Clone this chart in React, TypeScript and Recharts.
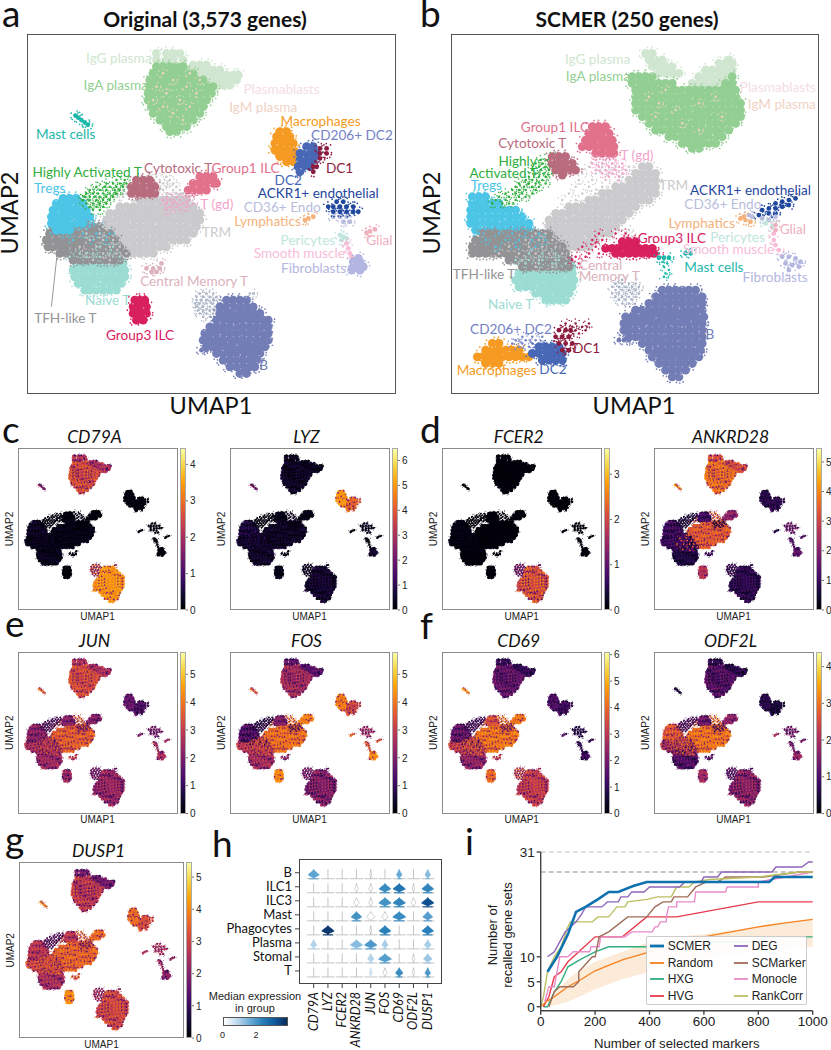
import React from "react";
import { ScatterChart, Scatter, XAxis, YAxis, ComposedChart, Line, Area, ReferenceLine } from "recharts";

type Rows = [number, number[]][];
const LATO = "Lato, Carlito, sans-serif";
const ARIAL = "'Liberation Sans', Arial, sans-serif";

// ---------- embedding of panel a (also used by c-g), UMAP units ----------
const aLobe: Rows = [[16,[47,50,52,54]],[18,[47,50,52,55]],[19.5,[55,58,60,62]],[21,[58,60,62,64,66]],[22.5,[60,62,64,66,68,70,71.5]],[24,[62,64,66,68,70,71]],[25.5,[61,64,67,69]]];
const aPlasma: Rows = [[20,[47,49,51,53,55]],[22,[46,48,50,52,54,56,58]],[24,[45,47,49,51,53,55,57,59,61]],[26,[45,46,48,50,52,54,56,58,60,62,64]],[28,[44.5,46,48,50,52,54,56,58,60,62,63.5]],[30,[44.5,46,48,50,52,54,56,58,60,62]],[32,[45.5,47,49,51,53,55,57,59,61]],[34,[46,48,50,52,54,56,58,60]],[36,[48,50,52,54,56,58]],[38,[50,52,54,56]],[39.5,[51,53]]];
const aIgm: Rows = [[22,[57,49]],[24,[60,52]],[26,[47,56]],[28,[50,59]],[30,[54,46]],[32,[49,57]],[34,[52]],[36,[55]]];
const aTrm: Rows = [[60,[42,44,46,48,50,52,54,56]],[62,[36,38,40,42,44,46,48,50,52,54,56,58]],[64,[33,35,37,39,41,43,45,47,49,51,53,55,57,59,60]],[66,[32,34,36,38,40,42,44,46,48,50,52,54,56,58,60]],[68,[32,34,36,38,40,42,44,46,48,50,52,54,56,58,59]],[70,[32,34,36,38,40,42,44,46,48,50,52,54,56,58]],[72,[34,36,38,40,42,44,46,48,50,52,54,56]],[74,[38,40,42,44,46,48,50]],[76,[40,42,44,46]]];
const aTrmFine: Rows = [[53,[44,47,50]],[54,[42,45,48,51]],[55,[40,43,46,49,52]],[56,[38,41,44,47,50,53]],[57,[37,40,43,46,49,52,54]],[58,[35,38,41,44,47,50,53,55]],[59,[34,37,40,43,46,49,52,55,57]]];
const aTfh: Rows = [[66,[18,20,22,24,26]],[68,[16,18,20,22,24,26,28,30]],[70,[15,17,19,21,23,25,27,29,31,33]],[72,[14,15,17,19,21,23,25,27,29,31,33,35]],[74,[14.5,16,18,20,22,24,26,28,30,32,34,36]],[76,[18,20,22,24,26,28,30,32,34,36,38]],[78,[22,24,26,28,30,32,34,36]]];
const aTregs: Rows = [[59.5,[19,21,23]],[61,[17,19,21,23,25]],[63,[16,18,20,22,24,26]],[65,[15.5,17,19,21,23,25,27]],[67,[15.5,17,19,21,23,25]],[69,[17,19,21]]];
const aNaive: Rows = [[79,[23,25,27,29,31,33,35,37]],[81,[22,24,26,28,30,32,34,36,37.5]],[83,[22.5,24,26,28,30,32,34,36,37.5]],[85,[23.5,25,27,29,31,33,35,36.5]],[87,[25.5,27,29,31,33,35]]];
const aTfhCyan: Rows = [[66,[20,24,28]],[68,[17,23,27,31]],[70,[19,25,29,33]],[72,[22,28,32]]];
const aTfhLight: Rows = [[68,[31,33]],[70,[26,30,35]],[72,[27,31,34,36]],[74,[24,29,33,36]],[76,[26,31,35,38]],[78,[28,33]]];
const aNaiveMix: Rows = [[74,[30,34]],[76,[24,28,33]],[77,[21,26,30,36]]];
const aAct: Rows = [[54,[35,37.5]],[55,[32,34,36,38]],[56,[29,31.5,33,35,37]],[57,[27,30,32,34.5,36]],[58,[26,28,29.5,31,33,35]],[59,[25.5,27,28.5,30,32,34]],[60,[25,27,29,31,33]],[61,[26,28,30,32]],[62,[27,29,31]],[63,[28,30]]];
const aCyto: Rows = [[54,[41,43,45]],[56,[39.5,41,43,45,46.5]],[58,[39.5,41,43,45,46.5]]];
const aIlc1: Rows = [[53,[60,62,64]],[55,[58,60,62,64,65]],[57,[56.5,58,60,62]]];
const aGd: Rows = [[59,[50,53,56]],[60,[49,51,54,57]],[61,[50,52,55,58]],[62,[51,53,56]],[63,[50,54]]];
const aCm: Rows = [[79,[48.5]],[80.5,[44,46,48]],[81.5,[45.5,47]]];
const aIlc3: Rows = [[90,[40.5,42,43.5]],[92,[40,41.5,43,44]],[94,[40,42,44]],[96,[41,43]]];
const aB: Rows = [[90,[68,70,72,74]],[92,[66,68,70,72,74,76]],[94,[66,68,70,72,74,76,78]],[96,[65,67,69,71,73,75,77,79,80.5]],[98,[63,65,67,69,71,73,75,77,79,80.5]],[100,[61.5,63,65,67,69,71,73,75,77,79,80.5]],[102,[61,63,65,67,69,71,73,75,77,79,80.5]],[104,[62,64,66,68,70,72,74,76,78,79.5]],[106,[65,67,69,71,73,75,77,78]],[108,[67,69,71,73,75,77]],[110,[69,71,73,75,76.5]],[112,[72,74]]];
const aBump: Rows = [[105,[60.5,62]]];
const aBmix: Rows = [[88,[60,62,64,75,76]],[89,[59,61,63,65]],[90,[59,60.5,62,64,66]],[91,[58.5,60,62,64,65.5]],[92,[59,61,63,65]],[93,[59.5,61,63,64.5]],[94,[60,62,64]],[95,[61,63]]];
const aMast: Rows = [[34.7,[22.8]],[35.3,[23.6]],[36,[24.5]],[36.7,[25.5]],[37.4,[26.4]]];
const aMac: Rows = [[39.5,[84,86]],[41,[83,85,87]],[43,[82.5,84,86,88]],[45,[82.5,84,86,88]],[47,[84,86,88]],[48.5,[86,88,90]]];
const aDc2: Rows = [[44,[92,94]],[46,[90,92,94,95]],[48,[90,92,94]],[50,[89.5,91,93]],[51.5,[90]]];
const aDc1: Rows = [[44.5,[96,98]],[46,[96,98]],[47.5,[96]],[50,[94,95]],[51.5,[94]]];
const aAckr: Rows = [[60.5,[101,103]],[62,[98.5,100,102,104,106]],[63.5,[100,102,104,106,107.5]]];
const aCd36: Rows = [[65,[100,102,104]],[66.5,[103,105]]];
const aLymph: Rows = [[65,[94]],[65.5,[92.5]],[66,[91.5]]];
const aPeri: Rows = [[70.5,[102]],[71,[103]],[71.5,[104]],[72,[102.5]]];
const aSmooth: Rows = [[73,[104]],[74.5,[104.5]],[76,[105]],[77,[105.5]]];
const aFib: Rows = [[77.5,[107.5]],[78.5,[106,108]],[80,[106,107.5,109]],[81,[105.5,108]]];
const aGlial: Rows = [[68.8,[112.5]],[69.3,[111]],[69.8,[110]]];

// ---------- embedding of panel b ----------
const bLobe: Rows = [[16,[69,71]],[18,[70,72,74,94]],[19,[91,93,95]],[20,[71,73,75,77]],[21,[87,89,91,93,95]],[22,[73,75,77,79]],[23,[85,87,89,91,93]],[25,[83,85,87,89,91]]];
const bPlasma: Rows = [[23,[65,67,69,71,95]],[25,[65,67,69,71,73,75,77,93,95]],[27,[66,68,70,72,74,76,78,80,82,84,86,88,90,92,94,96]],[29,[66,68,70,72,74,76,78,80,82,84,86,88,90,92,94,96]],[31,[66,68,70,72,74,76,78,80,82,84,86,88,90,92,94,96,97.5]],[33,[66,68,70,72,74,76,78,80,82,84,86,88,90,92,94,96,97.5]],[35,[68,70,72,74,76,78,80,82,84,86,88,90,92,94,96,97.5]],[37,[70,72,74,76,78,80,82,84,86,88,90,92,94,96]],[39,[72,74,76,78,80,82,84,86,88,90,92,94]],[41,[76,78,80,82,84,86,88,90,92]],[43,[80,82,84,86,88,90]],[44.5,[83,85]]];
const bIgm: Rows = [[27,[75]],[29,[70,90]],[31,[73,85]],[33,[78]],[35,[72,92]],[37,[80]],[39,[85]]];
const bTrm: Rows = [[50,[68,70]],[52,[66,68,70,72]],[54,[64,66,68,70,72]],[56,[60,62,64,66,68,70,72]],[58,[56,58,60,62,64,66,68,70,72]],[60,[52,54,56,58,60,62,64,66,68,70]],[62,[46,48,50,52,54,56,58,60,62,64,66]],[64,[42,44,46,48,50,52,54,56,58,60,62,64]],[66,[40,42,44,46,48,50,52,54,56,58,60,62]],[68,[40,42,44,46,48,50,52,54,56,58,60]],[70,[42,44,46,48,50,52,54,56,58]],[72,[44,46,48,50,52,54]],[74,[46,48,50,52]]];
const bTrmFine: Rows = [[50,[52,56,60,64]],[52,[50,54,58,62]],[54,[49,53,57,61]],[56,[48,52,56]],[58,[46,50,54]],[60,[44,48]],[69,[62,64]],[71,[63,65]]];
const bTregs: Rows = [[59,[17,19,21]],[61,[17,19,21,23,25]],[63,[16.5,18,20,22,24,26,28,30]],[65,[16.5,18,20,22,24,26,28,30,32]],[67,[16.5,18,20,22,24,26,28,30,32,34]],[69,[18,20,22,24,26,28,30,32,34]],[71,[22,24,26,28]]];
const bTfh: Rows = [[70,[20,22,24,26,28,30,32,34,36,38,40]],[72,[18,20,22,24,26,28,30,32,34,36,38,40,42]],[74,[17,19,21,23,25,27,29,31,33,35,37,39,41,43,44]],[76,[17,19,21,23,25,27,29,31,33,35,37,39,41,43,45]],[78,[28,30,32,34,36,38,40,42,44,46]],[80,[32,34,36,38,40,42,44,46]]];
const bNaive: Rows = [[80,[33,35,37,39,41,43,45,47]],[82,[31,33,35,37,39,41,43,45,47]],[84,[30,32,34,36,38,40,42,44,46,47.5]],[86,[31,33,35,37,39,41,43,45,47]],[88,[36,38,40,42,44,46]],[90,[39,41,43,45]]];
const bTfhCyan: Rows = [[68,[22,26,30,34]],[70,[19,25,29,33,37]],[72,[21,27,31,35,39]],[74,[24,30,36]]];
const bTfhLight: Rows = [[70,[36,39,42]],[72,[33,37,41,43]],[74,[28,34,38,42]],[76,[25,31,36,40,44]],[78,[32,37,42]],[80,[36,41]]];
const bNaiveMix: Rows = [[76,[34,38,42]],[78,[30,34,38,43]],[79,[33,37,41,45]]];
const bAct: Rows = [[47,[40,42]],[48,[37.5,39.5,41.5]],[49,[36,38,40]],[50,[37,39,41]],[51,[35,37.5,40]],[52,[36,38.5,41]],[53,[34,37,39]],[54,[33,35,38]],[55,[31,34,36,39]],[56,[30,32.5,35,37]],[57,[29,31,33,36]],[58,[27,30,32,35]],[59,[25,28,31,33]],[60,[24,27,30]],[61,[23,26,28]]];
const bCyto: Rows = [[47,[41,43,45]],[49,[41,43,45,47]],[51,[42,44,46,48]],[52.5,[44]]];
const bIlc1: Rows = [[38,[53,55,57]],[40,[52,54,56,58]],[42,[51,53,55,57,59]],[44,[50,52,54,56,58,59.5]],[46,[54,56,58,59.5]]];
const bGd: Rows = [[48,[54,57,60]],[49,[53,56,59,62]],[50,[55,58,61]],[51,[54,57,60,63]],[52,[56,59,62]],[53,[58,61]]];
const bIlc3: Rows = [[72.5,[62,64,66]],[74.5,[57,59,61,63,65,67,69,71]],[76,[60,62,64,66,68,70,71.5]]];
const bIlc3Fine: Rows = [[70,[55,60,63]],[72,[53,56]],[74,[50,54]],[76,[52,55,73]],[77,[48,51]],[78,[47]],[79,[49]]];
const bMast: Rows = [[76,[81,82.5]],[77.3,[73,74.5,76]]];
const bMastFine: Rows = [[79,[75.5]],[80,[74.5]],[81,[76]],[82,[75]],[83,[74.5]]];
const bB: Rows = [[87,[74,76,78,80,82,84]],[89,[72,74,76,78,80,82,84,86]],[91,[70,72,74,76,78,80,82,84,86]],[93,[66,68,70,72,74,76,78,80,82,84,86]],[95,[63,65,67,69,71,73,75,77,79,81,83,85,86.5]],[97,[62.5,64,66,68,70,72,74,76,78,80,82,84,86]],[99,[62.5,64,66,68,70,72,74,76,78,80,82,84,86]],[101,[64,66,68,70,72,74,76,78,80,82,84,86]],[103,[68,70,72,74,76,78,80,82,84,86]],[105,[70,72,74,76,78,80,82,84,85.5]],[107,[71,73,75,77,79,81,83,85]],[109,[73,75,77,79,81,83]],[111,[75,77,79,81]],[113,[77,79]]];
const bBump: Rows = [[102,[61,62.5,64]]];
const bBmix: Rows = [[84,[62]],[85,[60,62,64,66]],[86,[59,61,63,65,67]],[87,[60,62,64,66]],[88,[59,61,63,65,67]],[89,[60,62,64,66]],[90,[61,63,65]],[91,[62,64]]];
const bMac: Rows = [[103,[23,25]],[105,[21,23,25,27,29,31]],[107,[18.5,20,22,24,26,28,30,32,34]],[109,[21,23,25]]];
const bCd206: Rows = [[101,[32,35,38]],[102,[30,33,36]],[103,[29,32,35,38]],[104,[31,34,37]]];
const bDc2: Rows = [[104,[37,39,41,43]],[106,[35,37,39,41,43,44]],[108,[38,40,42,44]]];
const bDc1: Rows = [[99,[43,45,46.5]],[101,[42,44,46]],[103,[43,45,47]],[105,[44,46]]];
const bDc1Fine: Rows = [[97,[45,48,52]],[98,[47,50]],[99,[48,51]],[100,[49]]];
const bAckr: Rows = [[59.5,[114]],[60,[112]],[60.5,[110]],[61,[108]],[61.5,[112]],[62,[110]],[62.5,[106,108]],[63,[104]],[64,[106,108]],[64.5,[103]]];
const bCd36: Rows = [[64.5,[100]],[65,[101,108]],[65.5,[104]],[66,[106]]];
const bLymph: Rows = [[65,[98.5]],[65.5,[97.5]],[66,[99]],[66.5,[100.5]]];
const bPeri: Rows = [[67,[105]],[68,[107]]];
const bGlial: Rows = [[67.5,[108]],[69,[108]]];
const bSmooth: Rows = [[70,[107.5]],[72,[107.5]],[73.5,[108]],[75,[109]]];
const bFib: Rows = [[77,[110,112]],[77.5,[114]],[78.5,[115.5]],[79,[111]],[79.5,[113]],[80,[115]],[81,[112]]];

// ---------- cluster colours ----------
const COL: Record<string,string> = {
  lobe:"#d0e6d0", plasma:"#93cf93", igm:"#efd3c6", trm:"#cbcbcd", tfh:"#939395", tregs:"#4dc5e6", naive:"#9bdcd3",
  act:"#2eae3c", cyto:"#b86c7e", ilc1:"#e2718c", gd:"#f2a3cb", cm:"#dcb2bc", ilc3:"#d8205f", b:"#737db6", bmix:"#aab4c6",
  mast:"#1eb7ab", mac:"#f59a22", dc2:"#4868b6", cd206:"#7482c8", dc1:"#8c1b3d", ackr:"#1f479e", cd36:"#b9bddd",
  lymph:"#f5b27c", peri:"#bfe5dc", smooth:"#f7bcd8", fib:"#b3b6e0", glial:"#eeb0bc", leader:"#999999",
};
type Cl = { key: string; region: number; size: 0|1|2; rows: Rows };
const aClusters: Cl[] = [
  {key:"lobe",region:1,size:0,rows:aLobe},{key:"plasma",region:0,size:0,rows:aPlasma},{key:"igm",region:0,size:2,rows:aIgm},
  {key:"trm",region:2,size:2,rows:aTrmFine},{key:"trm",region:2,size:0,rows:aTrm},{key:"naive",region:5,size:0,rows:aNaive},
  {key:"tfh",region:3,size:0,rows:aTfh},{key:"tregs",region:4,size:0,rows:aTregs},
  {key:"tregs",region:4,size:2,rows:aTfhCyan},{key:"trm",region:2,size:2,rows:aTfhLight},{key:"naive",region:5,size:2,rows:aNaiveMix},
  {key:"act",region:6,size:2,rows:aAct},
  {key:"cyto",region:7,size:0,rows:aCyto},{key:"ilc1",region:8,size:0,rows:aIlc1},{key:"gd",region:9,size:2,rows:aGd},
  {key:"cm",region:10,size:1,rows:aCm},{key:"ilc3",region:11,size:0,rows:aIlc3},{key:"bmix",region:13,size:2,rows:aBmix},
  {key:"b",region:12,size:0,rows:aB},{key:"b",region:12,size:1,rows:aBump},{key:"mast",region:14,size:1,rows:aMast},
  {key:"mac",region:15,size:0,rows:aMac},{key:"dc2",region:16,size:0,rows:aDc2},{key:"dc1",region:16,size:1,rows:aDc1},
  {key:"cd36",region:17,size:1,rows:aCd36},{key:"ackr",region:17,size:1,rows:aAckr},{key:"lymph",region:18,size:1,rows:aLymph},
  {key:"peri",region:19,size:1,rows:aPeri},{key:"smooth",region:19,size:1,rows:aSmooth},{key:"fib",region:20,size:0,rows:aFib},
  {key:"glial",region:19,size:1,rows:aGlial},
];
const bClusters: Cl[] = [
  {key:"lobe",region:1,size:0,rows:bLobe},{key:"plasma",region:0,size:0,rows:bPlasma},{key:"igm",region:0,size:2,rows:bIgm},
  {key:"trm",region:2,size:2,rows:bTrmFine},{key:"trm",region:2,size:0,rows:bTrm},{key:"naive",region:5,size:0,rows:bNaive},
  {key:"tregs",region:4,size:0,rows:bTregs},{key:"tfh",region:3,size:0,rows:bTfh},
  {key:"tregs",region:4,size:2,rows:bTfhCyan},{key:"trm",region:2,size:2,rows:bTfhLight},{key:"naive",region:5,size:2,rows:bNaiveMix},
  {key:"act",region:6,size:2,rows:bAct},
  {key:"ilc1",region:8,size:0,rows:bIlc1},{key:"cyto",region:7,size:0,rows:bCyto},{key:"gd",region:9,size:2,rows:bGd},
  {key:"ilc3",region:11,size:0,rows:bIlc3},{key:"ilc3",region:11,size:2,rows:bIlc3Fine},{key:"mast",region:14,size:1,rows:bMast},
  {key:"mast",region:14,size:2,rows:bMastFine},{key:"bmix",region:13,size:2,rows:bBmix},{key:"b",region:12,size:0,rows:bB},
  {key:"b",region:12,size:1,rows:bBump},{key:"mac",region:15,size:0,rows:bMac},{key:"cd206",region:16,size:2,rows:bCd206},
  {key:"dc2",region:16,size:0,rows:bDc2},{key:"dc1",region:16,size:1,rows:bDc1},{key:"dc1",region:16,size:2,rows:bDc1Fine},
  {key:"ackr",region:17,size:1,rows:bAckr},{key:"cd36",region:17,size:1,rows:bCd36},{key:"lymph",region:18,size:1,rows:bLymph},
  {key:"peri",region:19,size:1,rows:bPeri},{key:"glial",region:19,size:1,rows:bGlial},{key:"smooth",region:19,size:1,rows:bSmooth},
  {key:"fib",region:20,size:1,rows:bFib},
];

// ---------- cluster labels ----------
type Lab = [string,string,number,number];
const aLabels: Lab[] = [["IgG plasma","lobe",35.7,17.5],["IgA plasma","plasma",34.8,25.6],["Plasmablasts","igmPale",84.5,26.7],["IgM plasma","igm",79,32],["Macrophages","mac",96.2,36.2],["Mast cells","mast",19.8,40.3],["CD206+ DC2","cd206",105.6,40.5],["DC1","dc1",101.9,50.5],["Highly Activated T","act",26.2,51.6],["Cytotoxic T","cyto",53.5,50.3],["Group1 ILC","ilc1",73.7,50.3],["DC2","dc2",86.5,54],["Tregs","tregs",15,56.5],["ACKR1+ endothelial","ackr",95.5,57.8],["T (gd)","gd",65.1,61.3],["CD36+ Endo","cd36",84.7,62.1],["Lymphatics","lymph",80.3,66.4],["TRM","trm",65,69.7],["Pericytes","peri",92.4,72],["Glial","glial",113.8,72],["Smooth muscle","smooth",89.8,76],["Fibroblasts","fib",94.1,80.4],["Central Memory T","cm",58.3,84.2],["Naive T","naive",32.4,90],["TFH-like T","tfh",19.7,95.4],["Group3 ILC","ilc3",42.1,100.6],["B","b",79.1,109.4]];
const bLabels: Lab[] = [["IgG plasma","lobe",54.6,17.6],["IgA plasma","plasma",54.7,22.7],["Plasmablasts","igmPale",108.7,26.2],["IgM plasma","igm",109.9,31.2],["Group1 ILC","ilc1",41.8,38],["Cytotoxic T","cyto",35,43],["T (gd)","gd",66.4,46.4],["Highly","act",30.6,48.4],["Activated T","act",26.4,51.8],["Tregs","tregs",21.2,55.4],["TRM","trm",77.4,55.4],["ACKR1+ endothelial","ackr",100.5,56.9],["CD36+ Endo","cd36",92.2,61.3],["Lymphatics","lymph",85.9,67],["Glial","glial",113.2,68.8],["Pericytes","peri",96.6,71],["Group3 ILC","ilc3",76.9,71.3],["Smooth muscle","smooth",93.9,74.6],["Central","cm",55.5,79.6],["Memory T","cm",58.1,82.7],["Mast cells","mast",89.5,80],["TFH-like T","tfh",20.5,82.3],["Fibroblasts","fib",107.9,83],["Naive T","naive",28.5,91.1],["CD206+ DC2","cd206",28.6,98.8],["B","b",88.3,100.3],["DC1","dc1",51.3,104.3],["Macrophages","mac",24.3,111],["DC2","dc2",41.2,110.8]];
const leaderA = [{x:17.2,y:76.5},{x:15.5,y:92}];

// ---------- gene expression per region, [low, high] ----------
// plasma,lobe,trm,tfh,tregs,naive,act,cyto,ilc1,gd,cm,ilc3,b,bmix,mast,myeloid,dc,endo,lymph,stroma,fib
const CD79A = [[2,3],[1.5,2.5],[0,.3],[0,.4],[0,.5],[0,.4],[0,.2],[0,.2],[0,.1],[0,.1],[0,.2],[0,.1],[3,3.7],[1.5,3],[1,2],[0,.2],[0,.2],[0,.2],[0,.1],[0,.1],[0,.1]];
const LYZ = [[0,.8],[0,.6],[0,.8],[.1,1],[.1,1.2],[0,.9],[0,.3],[0,.5],[0,.4],[0,.3],[0,.4],[0,.5],[0,1],[0,.8],[1,3],[4.6,5.3],[3.5,4.8],[0,.6],[0,.3],[0,.3],[.2,.8]];
const FCER2 = [[0,.1],[0,.1],[0,.1],[0,.2],[0,.2],[0,.1],[0,.1],[0,.1],[0,.1],[0,.1],[0,.1],[0,.1],[1.5,2.6],[.8,1.6],[0,.1],[0,.1],[0,.1],[0,.1],[0,.1],[0,.1],[0,.1]];
const ANKRD28 = [[3,4.2],[2.5,3.6],[2.8,3.9],[.5,1.6],[.4,1.6],[.2,1],[.2,1],[.6,1.5],[1.8,2.5],[.3,1.5],[.5,1.5],[2.3,3],[.3,1.3],[.5,1.5],[3,4.5],[.3,1.2],[.4,1.3],[1,2.2],[.3,1],[.8,1.8],[1,1.8]];
const JUN = [[2.7,3.9],[2,3.2],[3,4.2],[2,3.4],[1.5,2.8],[1.8,3],[.8,2.2],[1.5,2.6],[1.5,2.6],[1.5,2.5],[2.5,3.5],[1.5,3],[1.6,3],[1.5,2.5],[3,4.2],[1.2,2.2],[.6,2],[1.2,2.5],[1.5,2.5],[2,3.2],[2.2,3]];
const FOS = [[1.8,3.2],[1,2],[3.4,4.4],[2.4,3.6],[.6,2],[1.8,3.2],[.3,1.5],[1.5,2.5],[3.8,4.5],[1,2.5],[1.5,2.8],[3.8,4.6],[1.2,2.8],[1.5,2.5],[3,4],[3.6,4.5],[2.6,3.8],[1.8,3],[3.5,4.2],[3,4],[3.8,4.6]];
const CD69 = [[1,2.4],[.5,1.5],[3.5,4.8],[2.6,4],[1,2.4],[1.6,3],[.8,2],[3,4],[3.8,4.6],[1.5,3],[2.5,3.8],[3.6,4.4],[2.4,3.8],[2.5,4],[4,5],[.8,2],[.5,1.8],[.3,1.2],[1,2],[.5,1.5],[.6,1.6]];
const ODF2L = [[.5,1.6],[.2,1],[2.6,3.4],[1.2,2.8],[2.2,3.1],[.5,1.5],[.6,1.6],[.8,1.8],[1.4,2],[.8,1.6],[.7,1.5],[1.6,2.2],[1,2.2],[.8,1.6],[.2,.8],[.2,1],[.1,.8],[1,1.8],[1.8,2.4],[1,1.8],[1.4,2.1]];
const DUSP1 = [[2,3.4],[1.2,2.2],[3,4],[2.6,3.7],[2.2,3.2],[1.8,3],[.8,2.2],[2.2,3.2],[3.2,4],[1.5,3],[3,3.8],[3.6,4.4],[2.4,3.6],[2,3],[3.4,4.3],[3.2,4],[2.8,3.6],[2,3],[2.4,3.1],[1.8,2.8],[1.6,2.4]];

// ---------- panel h ----------
const hGenes = ["CD79A","LYZ","FCER2","ANKRD28","JUN","FOS","CD69","ODF2L","DUSP1"];
const hGroups = ["B","ILC1","ILC3","Mast","Phagocytes","Plasma","Stomal","T"];
const hWidth = [
  [.9,0,0,0,.15,.1,.45,.05,.45],
  [0,0,0,.3,.3,.95,1,.2,.95],
  [0,0,0,.45,.3,1,1,.4,1],
  [0,0,0,.85,.7,.5,1.05,0,.8],
  [0,1,0,.05,.15,.95,0,0,.95],
  [.5,.03,0,1,1,.5,.03,.03,.55],
  [0,0,0,.03,.5,1.05,0,.2,.7],
  [0,0,0,.05,.25,.35,.6,.2,.45],
];
const hMedian = [
  [1.7,0,0,0,0,0,1.6,0,1.3],
  [0,0,0,0,0,2.1,2.5,0,2.2],
  [0,0,0,0,0,2,2.2,0,3.2],
  [0,0,0,2,0,0,2.1,0,1.8],
  [0,3.6,0,0,0,2.3,0,0,2.3],
  [.9,0,0,1.3,1.9,1,0,0,1],
  [0,0,0,0,.9,1.8,0,0,1.1],
  [0,0,0,0,.6,0,2.1,0,1.9],
];

// ---------- panel i ----------
type P = [number,number];
const SCMER: P[] = [[25,7],[60,10],[100,14.5],[130,19],[165,20],[210,21.5],[250,23],[285,23],[340,24.2],[390,25],[840,25],[860,26],[1000,26]];
const DEG: P[] = [[25,10],[50,11],[70,13],[90,15],[130,17],[150,18.5],[165,20],[225,20],[245,21],[285,21],[295,22],[320,22],[335,23],[380,23],[400,24],[510,24],[530,25],[590,25],[600,26],[650,26],[665,27],[850,27],[865,28],[960,28],[985,29],[1000,29]];
const HVG: P[] = [[10,0],[20,1],[30,2],[50,6],[75,7],[100,9],[150,11.5],[200,14],[300,14],[390,18],[500,18],[800,21],[1000,21]];
const Random: P[] = [[0,0],[20,1],[50,2],[100,4],[150,5.5],[200,7.2],[250,8.3],[300,9.4],[400,11],[500,12.6],[600,14],[700,15],[800,16],[900,16.8],[1000,17.5]];
const HXG: P[] = [[10,0],[25,0],[50,3],[75,5],[100,8],[150,9.6],[200,11],[250,12],[500,12],[520,13],[800,13],[830,14],[1000,14]];
const SCMarker: P[] = [[30,0],[50,3],[70,4],[120,4],[140,5],[140,7],[165,8.5],[190,10],[200,10],[215,14],[250,15],[320,18],[390,18],[420,20],[450,21],[480,21],[490,22],[540,22],[570,24],[610,25],[650,25],[680,26],[780,26],[820,26],[950,27],[1000,27]];
const Monocle: P[] = [[15,1],[30,4],[50,4],[70,10],[100,10],[120,11],[180,11],[185,12],[215,12],[220,14],[310,14],[335,15],[410,15],[420,16],[430,16],[440,17],[462,17],[462,18],[470,20],[500,20],[500,21],[565,21],[570,23],[680,23],[685,24],[800,24],[800,25],[1000,27]];
const RankCorr: P[] = [[0,0],[10,2],[25,7],[50,10],[75,12],[100,16],[110,17],[190,17],[210,18],[250,18],[280,20],[310,20],[320,21],[390,21.5],[430,22],[480,22],[490,23],[500,24],[545,24],[565,25],[620,25.5],[800,26],[950,27],[1000,27]];
const bandX = [30,100,150,200,300,400,500,600,800,1000];
const bandLo = [0,1,2.2,3.5,5.5,7,8.5,9.5,11,12];
const bandHi = [1.4,5.5,7.5,9,11,13,14,14.5,16,17.5];
const iSeries: [string,P[],string,number][] = [["HXG",HXG,"#2fae7e",1.4],["HVG",HVG,"#e63a4b",1.4],["Random",Random,"#f5811f",1.4],["Monocle",Monocle,"#e88ccb",1.4],["SCMarker",SCMarker,"#a06c5a",1.4],["RankCorr",RankCorr,"#bcc062",1.4],["DEG",DEG,"#8d66ba",1.4],["SCMER",SCMER,"#0f72b0",2.6]];
const legendOrder: string[][] = [["SCMER","DEG"],["Random","SCMarker"],["HXG","Monocle"],["HVG","RankCorr"]];

// ---------- helpers ----------
const INFERNO = ["#000004","#160b39","#420a68","#6a176e","#932667","#bc3754","#dd513a","#f37819","#fca50a","#f6d746","#fcffa4"];
const hex = (h:string)=>[1,3,5].map(i=>parseInt(h.slice(i,i+2),16));
const ramp = (stops:string[],t:number)=>{
  const s=Math.max(0,Math.min(.9999,t))*(stops.length-1), i=Math.floor(s), f=s-i;
  const a=hex(stops[i]),b=hex(stops[i+1]);
  return `rgb(${a.map((v,k)=>Math.round(v+(b[k]-v)*f)).join(",")})`;
};
const BLUES = ["#ffffff","#c2dbee","#6fb0d8","#2a80b9","#0f5a9c","#0a2a5e"];
const pts = (rows:Rows)=>rows.flatMap(([y,xs])=>xs.map(x=>({x,y})));
// dot texture: fixed offsets (in dot radii) of the tiny grains around a point
const SPECK = [[-1.25,-.7],[.4,-1.3],[1.3,.35],[-.5,1.2],[1.1,-.95],[-1.3,.6],[.9,1.1],[-.1,-1.35],[-1,1],[1.35,-.2],[.2,1.35]];
const yDomain:[number,number] = [10.2,118];

function Umap({left,top,w,h,clusters,xDomain,radii,gene,max,labels,leader}:{left:number;top:number;w:number;h:number;clusters:Cl[];xDomain:[number,number];radii:number[];gene?:number[][];max?:number;labels?:Lab[];leader?:{x:number;y:number}[]}){
  return <div style={{position:"absolute",left,top,width:w,height:h}}>
    <ScatterChart width={w} height={h} margin={{top:0,right:0,bottom:0,left:0}}>
      <XAxis type="number" dataKey="x" domain={xDomain} hide allowDataOverflow/>
      <YAxis type="number" dataKey="y" domain={yDomain} reversed hide allowDataOverflow/>
      {clusters.map((c,ci)=>{
        const r=radii[c.size]; const spread=c.size===2?2.6:c.size===1?1.5:1.06;
        return <Scatter key={ci} name={c.key} data={pts(c.rows)} isAnimationActive={false} fill={COL[c.key]}
          shape={(p:any)=>{
            const n=p.index??0; const sp=(k:number)=>SPECK[(n*3+k*4)%SPECK.length];
            if(gene){
              const [lo,hi]=gene[c.region]; const m=max as number;
              const cl=ramp(INFERNO,lo/m),ch=ramp(INFERNO,hi/m),cm=ramp(INFERNO,(lo+hi)/2/m),cd=ramp(INFERNO,lo*.55/m);
              return <g>
                <circle cx={p.cx} cy={p.cy} r={r} fill={cm}/>
                {[0,1,2,3].map(k=>{const o=sp(k);return <circle key={k} cx={p.cx+o[0]*r*.55} cy={p.cy+o[1]*r*.55} r={.42*Math.max(r,1.4)} fill={k===3?cd:k%2?cl:ch}/>;})}
                {[4,5].map(k=>{const o=sp(k);return <circle key={k} cx={p.cx+o[0]*r*spread} cy={p.cy+o[1]*r*spread} r={.45} fill={k%2?cl:cm}/>;})}
              </g>;
            }
            const f=COL[c.key];
            return <g>
              <circle cx={p.cx} cy={p.cy} r={r} fill={f}/>
              {[0,1,2,3,4].map(k=>{const o=sp(k);return <circle key={k} cx={p.cx+o[0]*r*spread} cy={p.cy+o[1]*r*spread} r={c.size===2?.75:.85} fill={f}/>;})}
              {c.size===0&&n%3===0&&<circle cx={p.cx+sp(5)[0]*r*.5} cy={p.cy+sp(5)[1]*r*.5} r={.8} fill="#fff" fillOpacity={.5}/>}
            </g>;
          }}/>;
      })}
      {leader&&<ReferenceLine segment={leader} stroke={COL.leader} strokeWidth={1}/>}
      {labels&&<Scatter name="labels" data={labels.map(l=>({x:l[2],y:l[3],t:l[0],k:l[1]}))} isAnimationActive={false}
        shape={(p:any)=><text x={p.cx} y={p.cy} textAnchor="middle" dominantBaseline="central" fontFamily={LATO} fontSize={13.6} fill={p.payload.k==="igmPale"?"#f5dde6":COL[p.payload.k]}>{p.payload.t}</text>}/>}
    </ScatterChart>
  </div>;
}

function Colorbar({x,top,bottom,w,max,step}:{x:number;top:number;bottom:number;w:number;max:number;step:number}){
  const ticks:number[]=[];for(let v=0;v<=max;v+=step)ticks.push(v);
  const H=bottom-top;
  return <>
    <div style={{position:"absolute",left:x,top,width:w,height:H,background:`linear-gradient(to top,${INFERNO.join(",")})`,border:"0.5px solid #aaa",boxSizing:"border-box"}}/>
    <svg style={{position:"absolute",left:x+w,top:top-8,overflow:"visible"}} width={22} height={H+16}>
      {ticks.map(v=>{const y=8+H-(v/max)*H;return <g key={v}><line x1={0} x2={2} y1={y} y2={y} stroke="#333" strokeWidth={.7}/><text x={4} y={y+3.7} fontFamily={ARIAL} fontSize={10} fill="#222">{v}</text></g>;})}
    </svg>
  </>;
}

function Mini({left,top,w,h,gene,max,title}:{left:number;top:number;w:number;h:number;gene:number[][];max:number;title:string}){
  const k=w/160;
  return <>
    <Umap left={left} top={top} w={w} h={h} clusters={aClusters} xDomain={[8.2,118.8]} radii={[2.1*k,1.1*k,.75*k]} gene={gene} max={max}/>
    <div style={{position:"absolute",left,top,width:w,height:h,border:"1.2px solid #8a8a8a",boxSizing:"border-box"}}/>
    <Colorbar x={left+w+2} top={top} bottom={top+h} w={6} max={max} step={1}/>
    <svg style={{position:"absolute",left:0,top:0,overflow:"visible"}} width={1} height={1}>
      <text x={left+w/2-3} y={top-5.5} textAnchor="middle" fontFamily={LATO} fontStyle="italic" fontSize={17.5} fill="#111">{title}</text>
      <text x={left+w/2} y={top+h+9.5} textAnchor="middle" fontFamily={ARIAL} fontSize={10} fill="#222">UMAP1</text>
      <text transform={`translate(${left-5},${top+h/2}) rotate(-90)`} textAnchor="middle" fontFamily={ARIAL} fontSize={10} fill="#222">UMAP2</text>
    </svg>
  </>;
}

function Violin(p:any){
  const {cx,cy,payload}=p; const w=payload.w*6.2, c=payload.m>0?ramp(BLUES,payload.m/3.8):"#ffffff";
  const gray="#b5b5b5";
  const body=`M${cx},${cy-3} C${cx+w*.25},${cy-1} ${cx+w*.7},${cy} ${cx+w},${cy+2.2} C${cx+w*.6},${cy+3.6} ${cx+w*.2},${cy+4.2} ${cx},${cy+5.4} C${cx-w*.2},${cy+4.2} ${cx-w*.6},${cy+3.6} ${cx-w},${cy+2.2} C${cx-w*.7},${cy} ${cx-w*.25},${cy-1} ${cx},${cy-3}Z`;
  return <g>
    <line x1={cx-6.5} x2={cx+6.5} y1={cy+6} y2={cy+6} stroke={gray} strokeWidth={.8}/>
    <line x1={cx} x2={cx} y1={cy-3.5} y2={cy+6} stroke={payload.m>0?c:gray} strokeWidth={.8}/>
    {payload.w>.1&&<path d={body} fill={c} stroke={payload.m>0?c:"#bdbdbd"} strokeWidth={.7}/>}
    {payload.w>.4&&payload.m>0&&<line x1={cx-w*.8} x2={cx+w*.8} y1={cy+6} y2={cy+6} stroke={c} strokeWidth={1.1}/>}
  </g>;
}

const hData = hGroups.flatMap((g,r)=>hGenes.map((n,c)=>({x:c,y:r,w:hWidth[r][c],m:hMedian[r][c]})));

function PanelH(){
  return <div style={{position:"absolute",left:210,top:850,width:240,height:200}}>
    <ScatterChart width={240} height={200} margin={{top:9,right:8,bottom:0,left:0}}>
      <XAxis type="number" dataKey="x" domain={[-1.03,9]} ticks={[0,1,2,3,4,5,6,7,8]} height={66} axisLine={false} tickLine={{stroke:"#444"}} tickSize={4} interval={0}
        tick={(p:any)=><text transform={`translate(${p.x+4},${p.y+2}) rotate(-90)`} textAnchor="end" fontFamily={LATO} fontStyle="italic" fontSize={12.5} fill="#111">{hGenes[p.payload.value]}</text>}/>
      <YAxis type="number" dataKey="y" domain={[-.98,7.93]} reversed ticks={[0,1,2,3,4,5,6,7]} width={89} axisLine={false} tickLine={{stroke:"#444"}} tickSize={4} interval={0}
        tick={(p:any)=><text x={p.x-1} y={p.y+4.5} textAnchor="end" fontFamily={LATO} fontSize={13} fill="#111">{hGroups[p.payload.value]}</text>}/>
      <Scatter data={hData} isAnimationActive={false} shape={Violin}/>
    </ScatterChart>
    <div style={{position:"absolute",left:89,top:9,width:143,height:125,border:"1.6px solid #444",boxSizing:"border-box"}}/>
    <div style={{position:"absolute",left:12.5,top:167,width:65,height:8.5,background:`linear-gradient(to right,${BLUES.join(",")})`,border:"1px solid #555",boxSizing:"border-box"}}/>
    <svg style={{position:"absolute",left:0,top:0,overflow:"visible"}} width={1} height={1}>
      <text x={45} y={150} textAnchor="middle" fontFamily={ARIAL} fontSize={11} fill="#222">Median expression</text>
      <text x={45} y={162} textAnchor="middle" fontFamily={ARIAL} fontSize={11} fill="#222">in group</text>
      <text x={12.5} y={188} textAnchor="middle" fontFamily={ARIAL} fontSize={9} fill="#222">0</text>
      <text x={46} y={188} textAnchor="middle" fontFamily={ARIAL} fontSize={9} fill="#222">2</text>
    </svg>
  </div>;
}

function PanelI(){
  const tk={fontFamily:ARIAL,fontSize:13.5,fill:"#222"};
  const band=bandX.map((x,i)=>({x,r:[bandLo[i],bandHi[i]]}));
  return <div style={{position:"absolute",left:500,top:840,width:331,height:210}}>
    <ComposedChart width={331} height={210} margin={{top:12,right:18.3,bottom:0,left:0}} data={band}>
      <XAxis type="number" dataKey="x" domain={[0,1000]} ticks={[0,200,400,600,800,1000]} height={39.3} tick={tk} stroke="#444" strokeWidth={1.4} tickSize={4} tickMargin={2} allowDuplicatedCategory={false}
        label={{value:"Number of selected markers",position:"insideBottom",offset:2,style:{fontFamily:ARIAL,fontSize:13.2,fill:"#222"}}}/>
      <YAxis type="number" domain={[-.8,31]} ticks={[0,5,10,31]} width={40.7} tick={tk} stroke="#444" strokeWidth={1.4} tickSize={4} tickMargin={2} interval={0}/>
      <ReferenceLine y={31} stroke="#b5b5b5" strokeDasharray="5 3" strokeWidth={.9}/>
      <ReferenceLine y={27} stroke="#8c8c8c" strokeDasharray="5 3" strokeWidth={1.1}/>
      <Area dataKey="r" type="linear" data={band} stroke="none" fill="#fde6d0" fillOpacity={.8} isAnimationActive={false} dot={false} activeDot={false}/>
      {iSeries.map(([n,d,c,w])=><Line key={n} name={n} type="linear" data={d.map(([x,y])=>({x,y}))} dataKey="y" stroke={c} strokeWidth={w} dot={false} activeDot={false} isAnimationActive={false}/>)}
    </ComposedChart>
    <svg style={{position:"absolute",left:0,top:0,overflow:"visible"}} width={1} height={1}>
      <text transform="translate(-3,95) rotate(-90)" textAnchor="middle" fontFamily={ARIAL} fontSize={13} fill="#222">Number of</text>
      <text transform="translate(12,95) rotate(-90)" textAnchor="middle" fontFamily={ARIAL} fontSize={13} fill="#222">recalled gene sets</text>
    </svg>
    <div style={{position:"absolute",left:145.7,top:96,width:161.6,height:69,background:"rgba(255,255,255,.9)",border:"1px solid #ccc",borderRadius:2,boxSizing:"border-box"}}>
      {legendOrder.map((row,ri)=>row.map((n,ci)=>{
        const s=iSeries.find(q=>q[0]===n)!;
        return <div key={n} style={{position:"absolute",left:ci?87:3,top:1.5+ri*16.5,height:15,display:"flex",alignItems:"center",fontFamily:ARIAL,fontSize:12,color:"#222",whiteSpace:"nowrap"}}>
          <svg width={18} height={6} style={{display:"block"}}><line x1={0} x2={14} y1={3} y2={3} stroke={s[2]} strokeWidth={n==="SCMER"?2.8:1.8}/></svg>{n}
        </div>;
      }))}
    </div>
  </div>;
}

export default function App(){
  const letter=(t:string,x:number,y:number)=><text key={t} x={x} y={y} fontFamily={LATO} fontSize={37} fill="#111">{t}</text>;
  const big=(t:string,x:number,y:number)=><text x={x} y={y} textAnchor="middle" fontFamily={LATO} fontSize={23.5} fill="#111">{t}</text>;
  const bigV=(t:string,x:number,y:number)=><text transform={`translate(${x},${y}) rotate(-90)`} textAnchor="middle" fontFamily={LATO} fontSize={23.5} fill="#111">{t}</text>;
  return <div style={{position:"absolute",left:0,top:0,width:831,height:1050,background:"#fff",overflow:"hidden"}}>
    <Umap left={27.3} top={34} w={369} h={359.5} clusters={aClusters} xDomain={[8.2,118.8]} radii={[4.4,2.4,1.25]} labels={aLabels} leader={leaderA}/>
    <div style={{position:"absolute",left:27.3,top:34,width:369,height:359.5,border:"1.5px solid #555",boxSizing:"border-box"}}/>
    <Umap left={450.5} top={34} w={368.5} h={359.5} clusters={bClusters} xDomain={[10.6,121.2]} radii={[4.4,2.4,1.25]} labels={bLabels}/>
    <div style={{position:"absolute",left:450.5,top:34,width:368.5,height:359.5,border:"1.5px solid #555",boxSizing:"border-box"}}/>

    <Mini left={17.5} top={448} w={160} h={162} gene={CD79A} max={4.45} title="CD79A"/>
    <Mini left={229.5} top={448} w={160} h={162} gene={LYZ} max={6.5} title="LYZ"/>
    <Mini left={441.7} top={448} w={160} h={162} gene={FCER2} max={3.58} title="FCER2"/>
    <Mini left={653.5} top={448} w={160} h={162} gene={ANKRD28} max={5.47} title="ANKRD28"/>
    <Mini left={17.5} top={652} w={160} h={161.5} gene={JUN} max={5.8} title="JUN"/>
    <Mini left={229.5} top={652} w={160} h={161.5} gene={FOS} max={5.8} title="FOS"/>
    <Mini left={441.7} top={652} w={160} h={161.5} gene={CD69} max={6.1} title="CD69"/>
    <Mini left={653.5} top={652} w={160} h={161.5} gene={ODF2L} max={4.4} title="ODF2L"/>
    <Mini left={19.3} top={862.3} w={164.5} h={176} gene={DUSP1} max={5.47} title="DUSP1"/>
    <PanelH/>
    <PanelI/>

    <svg style={{position:"absolute",left:0,top:0,pointerEvents:"none"}} width={831} height={1050}>
      {letter("a",2,27)}{letter("b",420,27)}{letter("c",2,443)}{letter("d",420,443)}{letter("e",5,637)}{letter("f",420,639)}{letter("g",5,853)}{letter("h",212,857)}{letter("i",465,855)}
      <text x={205} y={27} textAnchor="middle" fontFamily={LATO} fontWeight={700} fontSize={21} fill="#111">Original (3,573 genes)</text>
      <text x={627} y={27} textAnchor="middle" fontFamily={LATO} fontWeight={700} fontSize={21} fill="#111">SCMER (250 genes)</text>
      {big("UMAP1",211,414)}{big("UMAP1",634,414)}{bigV("UMAP2",18,213)}{bigV("UMAP2",440,213)}
    </svg>
  </div>;
}
